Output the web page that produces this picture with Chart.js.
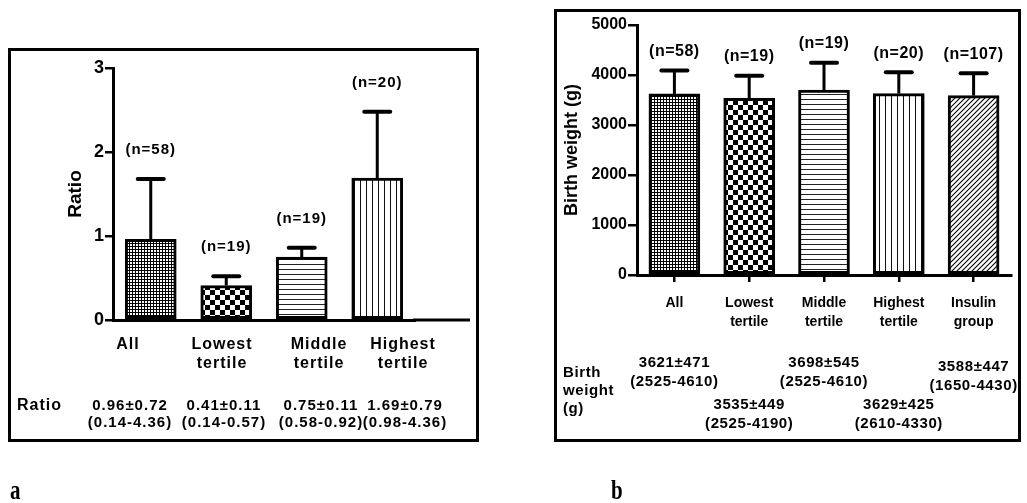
<!DOCTYPE html>
<html>
<head>
<meta charset="utf-8">
<script src="https://cdn.jsdelivr.net/npm/chart.js@4.4.0/dist/chart.umd.min.js"></script>
<style>
  body { margin: 0; background: #fff; width: 1027px; height: 503px; overflow: hidden; position: relative; }
  .box { position: absolute; border: 3px solid #000; box-sizing: border-box; }
  #boxA { left: 8px; top: 48px; width: 471px; height: 394px; }
  #boxB { left: 554px; top: 9px; width: 467px; height: 433px; }
  canvas { position: absolute; top: 0; }
  #chartA { left: 0; }
  #chartB { left: 513px; }
  .tag { position: absolute; font-family: "Liberation Serif", serif; font-size: 28px; font-weight: bold;
         line-height: 28px; transform: scaleX(0.75); transform-origin: left top; }
</style>
</head>
<body>
<div class="box" id="boxA"></div>
<div class="box" id="boxB"></div>
<canvas id="chartA" width="513" height="503"></canvas>
<canvas id="chartB" width="514" height="503"></canvas>
<div class="tag" style="left:10px; top:476px;">a</div>
<div class="tag" style="left:611px; top:476px;">b</div>
<script>
// ---- data: panel a (ratio) ----
var groupsA = [['All'], ['Lowest', 'tertile'], ['Middle', 'tertile'], ['Highest', 'tertile']];
var ratioMean = [0.96, 0.41, 0.75, 1.69];
var ratioSD = [0.72, 0.11, 0.11, 0.79];
var ratioRange = ['(0.14-4.36)', '(0.14-0.57)', '(0.58-0.92)', '(0.98-4.36)'];
var ratioN = [58, 19, 19, 20];
var ratioTicks = [0, 1, 2, 3];

// ---- data: panel b (birth weight) ----
var groupsB = [['All'], ['Lowest', 'tertile'], ['Middle', 'tertile'], ['Highest', 'tertile'], ['Insulin', 'group']];
var bwMean = [3621, 3535, 3698, 3629, 3588];
var bwSD = [471, 449, 545, 425, 447];
var bwRange = ['(2525-4610)', '(2525-4190)', '(2525-4610)', '(2610-4330)', '(1650-4430)'];
var bwN = [58, 19, 19, 20, 107];
var bwTicks = [0, 1000, 2000, 3000, 4000, 5000];

var FONT = '"Liberation Sans", Arial, sans-serif';
Chart.defaults.font.family = FONT;
Chart.defaults.color = '#000';

// fill patterns for the bars
function makePattern(kind) {
  var c = document.createElement('canvas');
  var g = c.getContext('2d');
  if (kind === 'fine') {
    c.width = c.height = 3;
    g.fillStyle = '#000'; g.fillRect(0, 0, 3, 3);
    g.fillStyle = '#fff'; g.fillRect(1, 1, 2, 2);
  } else if (kind === 'checker') {
    c.width = c.height = 10;
    g.fillStyle = '#fff'; g.fillRect(0, 0, 10, 10);
    g.fillStyle = '#000'; g.fillRect(0, 0, 5, 5); g.fillRect(5, 5, 5, 5);
  } else if (kind === 'hlines') {
    c.width = 4; c.height = 5;
    g.fillStyle = '#fff'; g.fillRect(0, 0, 4, 5);
    g.fillStyle = '#222'; g.fillRect(0, 4, 4, 1);
  } else if (kind === 'vlines') {
    c.width = 6; c.height = 4;
    g.fillStyle = '#fff'; g.fillRect(0, 0, 6, 4);
    g.fillStyle = '#111'; g.fillRect(0, 0, 1, 4);
  } else if (kind === 'diag') {
    c.width = c.height = 5;
    g.fillStyle = '#fff'; g.fillRect(0, 0, 5, 5);
    g.strokeStyle = '#000'; g.lineWidth = 1.1;
    g.beginPath();
    g.moveTo(-1, 6); g.lineTo(6, -1);
    g.moveTo(-1, 1); g.lineTo(1, -1);
    g.moveTo(4, 6); g.lineTo(6, 4);
    g.stroke();
  }
  return g.createPattern(c, 'repeat');
}

// error bars, n labels and the stats table under each panel
function extras(mean, sd, n, cfg) {
  return {
    id: 'extras',
    afterDraw: function(chart) {
      var ctx = chart.ctx, y = chart.scales.y, area = chart.chartArea;
      var bars = chart.getDatasetMeta(0).data;
      ctx.save();
      ctx.strokeStyle = '#000';
      ctx.fillStyle = '#000';
      if (cfg.axisTo) {
        ctx.lineWidth = 3;
        ctx.beginPath(); ctx.moveTo(area.right - 2, area.bottom); ctx.lineTo(cfg.axisTo, area.bottom); ctx.stroke();
      }
      bars.forEach(function(bar, i) {
        var top = y.getPixelForValue(mean[i] + sd[i]);
        ctx.lineWidth = 3; ctx.lineCap = 'butt';
        ctx.beginPath(); ctx.moveTo(bar.x, bar.y); ctx.lineTo(bar.x, top); ctx.stroke();
        ctx.lineWidth = 4; ctx.lineCap = 'round';
        ctx.beginPath(); ctx.moveTo(bar.x - 13, top); ctx.lineTo(bar.x + 13, top); ctx.stroke();
        ctx.font = 'bold ' + cfg.nSize + 'px ' + FONT;
        ctx.letterSpacing = cfg.nSpacing + 'px';
        ctx.textAlign = 'center'; ctx.textBaseline = 'middle';
        ctx.fillText('(n=' + n[i] + ')', bar.x, top - cfg.nGap);
      });
      cfg.table(ctx, bars);
      ctx.restore();
    }
  };
}

function barDataset(values, kinds) {
  return {
    data: values,
    backgroundColor: kinds.map(makePattern),
    borderColor: '#000',
    borderWidth: 3,
    borderSkipped: false,
    barThickness: 51
  };
}

function plain(v) { return String(v); }

// ---- panel a ----
var colA = [128, 222, 319, 403];
new Chart(document.getElementById('chartA'), {
  type: 'bar',
  data: {
    labels: groupsA,
    datasets: [barDataset(ratioMean, ['fine', 'checker', 'hlines', 'vlines'])]
  },
  options: {
    responsive: false,
    animation: false,
    devicePixelRatio: 1,
    layout: { padding: { left: 60, top: 68, right: 98, bottom: 181 } },
    plugins: { legend: { display: false }, tooltip: { enabled: false } },
    scales: {
      x: {
        ticks: { display: false },
        grid: { display: false },
        border: { color: '#000', width: 3 },
        afterFit: function(s) { s.height = 2; }
      },
      y: {
        min: ratioTicks[0],
        max: ratioTicks[ratioTicks.length - 1],
        ticks: { stepSize: 1, padding: 1, callback: plain, font: { size: 18, weight: 'bold' } },
        grid: { drawOnChartArea: false, drawTicks: true, tickLength: 8, color: '#000', lineWidth: 2.5 },
        border: { color: '#000', width: 3 },
        title: { display: true, text: 'Ratio', font: { size: 19, weight: 'bold' }, padding: { top: 4, bottom: 4 } },
        afterFit: function(s) { s.width = 53; }
      }
    }
  },
  plugins: [extras(ratioMean, ratioSD, ratioN, {
    axisTo: 470, nSize: 15, nSpacing: 1, nGap: 29,
    table: function(ctx, bars) {
      ctx.textAlign = 'center'; ctx.textBaseline = 'middle';
      ctx.font = 'bold 16px ' + FONT; ctx.letterSpacing = '1px';
      groupsA.forEach(function(lines, i) {
        lines.forEach(function(t, k) { ctx.fillText(t, colA[i], 345 + k * 19); });
      });
      ctx.textAlign = 'left';
      ctx.fillText('Ratio', 17, 406);
      ctx.textAlign = 'center';
      ctx.font = 'bold 15px ' + FONT;
      ratioMean.forEach(function(m, i) {
        ctx.fillText(m.toFixed(2) + '\u00b1' + ratioSD[i].toFixed(2), colA[i] + 2, 406);
        ctx.fillText(ratioRange[i], colA[i] + 2, 423);
      });
    }
  })]
});

// ---- panel b ----
var staggerB = [0, 42, 0, 42, 4];
new Chart(document.getElementById('chartB'), {
  type: 'bar',
  data: {
    labels: groupsB,
    datasets: [barDataset(bwMean, ['fine', 'checker', 'hlines', 'vlines', 'diag'])]
  },
  options: {
    responsive: false,
    animation: false,
    devicePixelRatio: 1,
    layout: { padding: { left: 44, top: 25, right: 16, bottom: 168 } },
    plugins: { legend: { display: false }, tooltip: { enabled: false } },
    scales: {
      x: {
        ticks: { padding: 12, font: { size: 14, weight: 'bold', lineHeight: 1.35 } },
        grid: { offset: false, drawOnChartArea: false, drawTicks: true, tickLength: 7, color: '#000', lineWidth: 2.5 },
        border: { color: '#000', width: 3 },
        afterFit: function(s) { s.height = 60; }
      },
      y: {
        min: bwTicks[0],
        max: bwTicks[bwTicks.length - 1],
        ticks: { stepSize: 1000, padding: 1, callback: plain, font: { size: 16, weight: 'bold' } },
        grid: { drawOnChartArea: false, drawTicks: true, tickLength: 9, color: '#000', lineWidth: 2.5 },
        border: { color: '#000', width: 3 },
        title: { display: true, text: 'Birth weight (g)', font: { size: 18, weight: 'bold' }, padding: { top: 4, bottom: 4 } },
        afterFit: function(s) { s.width = 80; }
      }
    }
  },
  plugins: [extras(bwMean, bwSD, bwN, {
    nSize: 16, nSpacing: 0.5, nGap: 19,
    table: function(ctx, bars) {
      ctx.font = 'bold 15px ' + FONT; ctx.letterSpacing = '0.6px';
      ctx.textBaseline = 'middle';
      ctx.textAlign = 'left';
      ['Birth', 'weight', '(g)'].forEach(function(t, k) { ctx.fillText(t, 50, 373 + k * 18); });
      ctx.textAlign = 'center';
      bars.forEach(function(bar, i) {
        var y0 = 363 + staggerB[i];
        ctx.fillText(bwMean[i] + '\u00b1' + bwSD[i], bar.x, y0);
        ctx.fillText(bwRange[i], bar.x, y0 + 19);
      });
    }
  })]
});
</script>
</body>
</html>
